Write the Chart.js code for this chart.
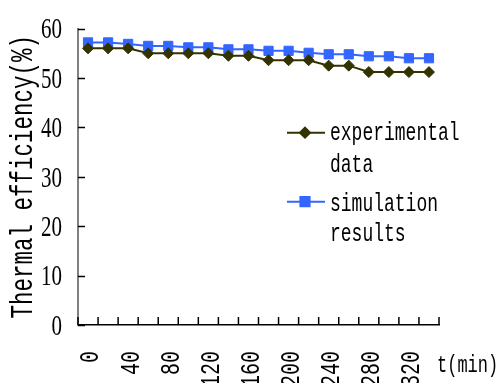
<!DOCTYPE html>
<html>
<head>
<meta charset="utf-8">
<script src="https://cdn.jsdelivr.net/npm/chart.js@4/dist/chart.umd.min.js"></script>
<style>
html,body{margin:0;padding:0;background:#fff;overflow:hidden;}
#wrap{width:498px;height:383px;position:relative;}
</style>
</head>
<body>
<div id="wrap"><canvas id="c" width="498" height="383"></canvas></div>
<script>
// ---- data ----
const timeLabels = ['0','20','40','60','80','100','120','140','160','180','200','220','240','260','280','300','320','340'];
const experimentalData = [56.0,56.0,56.0,55.0,55.0,55.0,55.0,54.5,54.5,53.6,53.6,53.6,52.5,52.5,51.2,51.2,51.2,51.2];
const simulationResults = [57.2,57.2,56.9,56.5,56.5,56.2,56.2,55.8,55.8,55.5,55.5,55.1,54.8,54.8,54.4,54.4,54.0,54.0];
const yTicks = [0,10,20,30,40,50,60];
const seriesNames = [['experimental','data'],['simulation','results']];
const yTitle = 'Thermal efficiency(%)';
const xTitle = 't(min)';

const EXP_COLOR = '#333300';
const SIM_COLOR = '#3366ff';
const MONO = '"Liberation Mono", monospace';
const SERIF = '"Liberation Serif", serif';
const SY = 1.4; // vertical glyph stretch

const canvas = document.getElementById('c');
const ctx = canvas.getContext('2d');
const origFill = ctx.fillText;
ctx.fillText = function(t, x, y, w) {
  this.save();
  this.translate(x, y);
  this.scale(1, SY);
  if (w === undefined) origFill.call(this, t, 0, 0);
  else origFill.call(this, t, 0, 0, w);
  this.restore();
};

const extras = {
  id: 'extras',
  afterDraw(chart) {
    const c = chart.ctx;
    const xs = chart.scales.x, ys = chart.scales.y;
    const area = chart.chartArea;
    c.save();
    c.strokeStyle = '#000';
    c.lineWidth = 1.5;
    // inward y ticks
    yTicks.forEach(v => {
      const y = Math.round(ys.getPixelForValue(v)) + 0.5;
      c.beginPath(); c.moveTo(area.left, y); c.lineTo(area.left + 7, y); c.stroke();
    });
    // inward x ticks at category boundaries
    for (let i = 0; i <= timeLabels.length; i++) {
      const x = xs.getPixelForValue(i - 0.5);
      c.beginPath(); c.moveTo(x, area.bottom); c.lineTo(x, area.bottom - 8); c.stroke();
    }
    // x title
    c.fillStyle = '#000';
    c.font = '17px ' + MONO;
    c.textAlign = 'left';
    c.textBaseline = 'alphabetic';
    c.fillText(xTitle, area.right - 2, 372);
    // legend
    const items = [
      {color: EXP_COLOR, style: 'rectRot', radius: 5, ly: 132.7, base: [140, 172]},
      {color: SIM_COLOR, style: 'rect', radius: 6.5, ly: 201.7, base: [210.7, 240.7]}
    ];
    items.forEach((it, k) => {
      c.strokeStyle = it.color; c.lineWidth = 2;
      c.beginPath(); c.moveTo(287, it.ly); c.lineTo(325, it.ly); c.stroke();
      c.fillStyle = it.color;
      Chart.helpers.drawPoint(c, {pointStyle: it.style, radius: it.radius, borderWidth: 1, rotation: 0}, 305, it.ly);
      c.fillStyle = '#000';
      c.font = '18px ' + MONO;
      c.fillText(seriesNames[k][0], 330, it.base[0]);
      c.fillText(seriesNames[k][1], 330, it.base[1]);
    });
    c.restore();
  }
};

new Chart(ctx, {
  type: 'line',
  data: {
    labels: timeLabels,
    datasets: [
      {label: seriesNames[0].join(' '), data: experimentalData, borderColor: EXP_COLOR, backgroundColor: EXP_COLOR,
       borderWidth: 2, pointStyle: 'rectRot', pointRadius: 5.5, pointBorderWidth: 1, tension: 0},
      {label: seriesNames[1].join(' '), data: simulationResults, borderColor: SIM_COLOR, backgroundColor: SIM_COLOR,
       borderWidth: 2, pointStyle: 'rect', pointRadius: 6.5, pointBorderWidth: 1, tension: 0}
    ]
  },
  options: {
    responsive: false,
    animation: false,
    events: [],
    layout: {padding: {top: 18, right: 59, left: 0, bottom: 0}},
    plugins: {legend: {display: false}, tooltip: {enabled: false}},
    scales: {
      x: {
        type: 'category',
        offset: true,
        grid: {display: true, drawOnChartArea: false, drawTicks: false, offset: true},
        border: {color: '#000', width: 1.5},
        ticks: {
          autoSkip: false, minRotation: 90, maxRotation: 90, padding: 26, labelOffset: 3,
          color: '#000', font: {family: MONO, size: 20},
          callback: function(v, i) { return i % 2 === 0 ? this.getLabelForValue(v) : ''; }
        },
        afterFit: s => { s.height = 58; }
      },
      y: {
        min: 0, max: 60,
        grid: {display: true, drawOnChartArea: false, drawTicks: false},
        border: {color: '#808080', width: 2},
        ticks: {stepSize: 10, padding: 16, labelOffset: 2, color: '#000', font: {family: SERIF, size: 21}},
        title: {display: true, text: yTitle, color: '#000', font: {family: MONO, size: 22.5}, padding: {top: 10, bottom: 0}},
        afterFit: s => { s.width = 78; }
      }
    }
  },
  plugins: [extras]
});
</script>
</body>
</html>
